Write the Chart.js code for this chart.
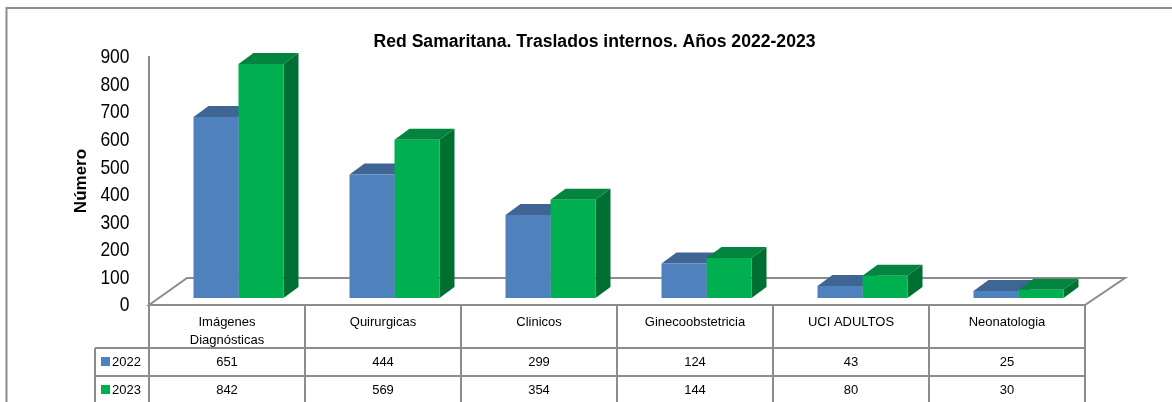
<!DOCTYPE html>
<html>
<head>
<meta charset="utf-8">
<title>Red Samaritana</title>
<script src="https://cdn.jsdelivr.net/npm/chart.js@4"></script>
<style>
    html, body { margin: 0; padding: 0; background: #fff; }
    #wrap { width: 1172px; height: 402px; overflow: hidden; }
</style>
</head>
<body>
<div id="wrap"><canvas id="chart" width="1172" height="402"></canvas></div>
<script>
const categories = [
    ['Imágenes', 'Diagnósticas'],
    'Quirurgicas',
    'Clinicos',
    'Ginecoobstetricia',
    'UCI ADULTOS',
    'Neonatologia'
];
const seriesNames = ['2022', '2023'];
const values2022 = [651, 444, 299, 124, 43, 25];
const values2023 = [842, 569, 354, 144, 80, 30];
const yTicks = [0, 100, 200, 300, 400, 500, 600, 700, 800, 900];

const LINE = '#8c8c8c';
const SANS = '"Liberation Sans", sans-serif';
const BLUE = { front: '#4f81bd', top: '#3e6594', side: '#345680' };
const GREEN = { front: '#00b050', top: '#03853f', side: '#006f32' };
const DEPTH_X = 15, DEPTH_Y = 11;   // 3d look of the bars
const BAR_SHIFT = 11.5;             // bars stand a bit right of the column centre

function poly(ctx, pts, fill, stroke, lw) {
    ctx.beginPath();
    pts.forEach((p, i) => i ? ctx.lineTo(p[0], p[1]) : ctx.moveTo(p[0], p[1]));
    ctx.closePath();
    if (fill) { ctx.fillStyle = fill; ctx.fill(); }
    if (stroke) { ctx.strokeStyle = stroke; ctx.lineWidth = lw; ctx.stroke(); }
}

const bar3d = {
    id: 'bar3d',
    beforeDraw(chart) {
        // outer frame, cut by the picture on the right and at the bottom
        const ctx = chart.ctx;
        ctx.save();
        ctx.strokeStyle = LINE;
        ctx.lineWidth = 2;
        ctx.beginPath();
        ctx.moveTo(6.5, 404);
        ctx.lineTo(6.5, 8);
        ctx.lineTo(1172, 8);
        ctx.stroke();
        ctx.restore();
    },
    beforeDatasetsDraw(chart) {
        const ctx = chart.ctx, a = chart.chartArea;
        // floor
        poly(ctx, [[a.left, a.bottom], [a.left + 38, a.bottom - 27], [a.right + 40, a.bottom - 27], [a.right, a.bottom]], null, LINE, 2);
        ctx.save();
        ctx.translate(BAR_SHIFT, 0);
        chart.data.datasets.forEach((ds, i) => {
            const c = i === 0 ? BLUE : GREEN;
            chart.getDatasetMeta(i).data.forEach(b => {
                const l = b.x - b.width / 2, r = b.x + b.width / 2, t = b.y, bt = b.base;
                poly(ctx, [[l, t], [l + DEPTH_X, t - DEPTH_Y], [r + DEPTH_X, t - DEPTH_Y], [r, t]], c.top);
                poly(ctx, [[r, t], [r + DEPTH_X, t - DEPTH_Y], [r + DEPTH_X, bt - DEPTH_Y], [r, bt]], c.side);
            });
        });
        // the fronts are painted by the library in this same shifted space
    },
    afterDatasetsDraw(chart) {
        chart.ctx.restore();
    },
    afterDraw(chart) {
        const ctx = chart.ctx, x = chart.scales.x, y = chart.scales.y, a = chart.chartArea;
        ctx.save();

        // value axis labels, squeezed like the narrow face of the original
        ctx.fillStyle = '#000';
        ctx.font = '21px ' + SANS;
        ctx.textAlign = 'right';
        ctx.textBaseline = 'middle';
        y.ticks.forEach(t => {
            const s = String(t.value);
            ctx.fillText(s, 129.5, y.getPixelForValue(t.value) + 0.5, s.length * 9.7);
        });

        // data table under the axis
        const rowTop = 348, rowH = 28, keyLeft = 95;
        const colW = x.width / categories.length;
        ctx.strokeStyle = LINE;
        ctx.lineWidth = 2;
        ctx.beginPath();
        for (let i = 0; i <= categories.length; i++) {
            ctx.moveTo(x.left + i * colW, a.bottom);
            ctx.lineTo(x.left + i * colW, 404);
        }
        ctx.moveTo(keyLeft, rowTop);
        ctx.lineTo(keyLeft, 404);
        for (let r = 0; r < 2; r++) {
            ctx.moveTo(keyLeft, rowTop + r * rowH);
            ctx.lineTo(x.right, rowTop + r * rowH);
        }
        ctx.stroke();

        ctx.font = '13px ' + SANS;
        chart.data.datasets.forEach((ds, r) => {
            const ty = rowTop + r * rowH + rowH / 2;
            ctx.fillStyle = ds.backgroundColor;
            ctx.fillRect(101, ty - 5, 9, 9);
            ctx.fillStyle = '#000';
            ctx.textAlign = 'left';
            ctx.fillText(ds.label, 112, ty);
            ctx.textAlign = 'center';
            ds.data.forEach((v, i) => ctx.fillText(v, x.getPixelForValue(i), ty));
        });
        ctx.restore();
    }
};

new Chart(document.getElementById('chart'), {
    type: 'bar',
    data: {
        labels: categories,
        datasets: [
            { label: seriesNames[0], data: values2022, backgroundColor: BLUE.front, yAxisID: 'yBars' },
            { label: seriesNames[1], data: values2023, backgroundColor: GREEN.front, yAxisID: 'yBars' }
        ]
    },
    options: {
        responsive: false,
        animation: false,
        layout: { padding: { left: 17, right: 0, top: 0, bottom: 0 } },
        datasets: { bar: { categoryPercentage: 0.577, barPercentage: 1 } },
        plugins: {
            legend: { display: false },
            tooltip: { enabled: false },
            title: {
                display: true,
                text: 'Red Samaritana. Traslados internos. Años 2022-2023',
                color: '#000',
                font: { family: SANS, size: 17.6, weight: 'bold', lineHeight: 1.2 },
                padding: { top: 32, bottom: 3.9 }
            }
        },
        scales: {
            x: {
                grid: { display: false },
                border: { color: LINE, width: 2 },
                ticks: {
                    color: '#000',
                    font: { family: SANS, size: 13, lineHeight: 1.4 },
                    padding: 0,
                    maxRotation: 0,
                    autoSkip: false
                },
                afterFit(s) { s.height = 97; }
            },
            y: {
                min: 0,
                max: 900,
                afterBuildTicks(s) { s.ticks = yTicks.map(v => ({ value: v })); },
                grid: { display: false, drawTicks: false },
                border: { color: LINE, width: 2 },
                ticks: { display: false },
                title: {
                    display: true,
                    text: 'Número',
                    color: '#000',
                    font: { family: SANS, size: 17, weight: 'bold' },
                    padding: { top: 54, bottom: 0 }
                },
                afterFit(s) { s.width = 132; }
            },
            // scale the bars are drawn on: its zero sits above the front floor edge
            yBars: {
                position: 'right',
                min: -25,
                max: 867,
                grid: { display: false },
                border: { display: false },
                ticks: { display: false },
                afterFit(s) { s.width = 87; }
            }
        }
    },
    plugins: [bar3d]
});
</script>
</body>
</html>
